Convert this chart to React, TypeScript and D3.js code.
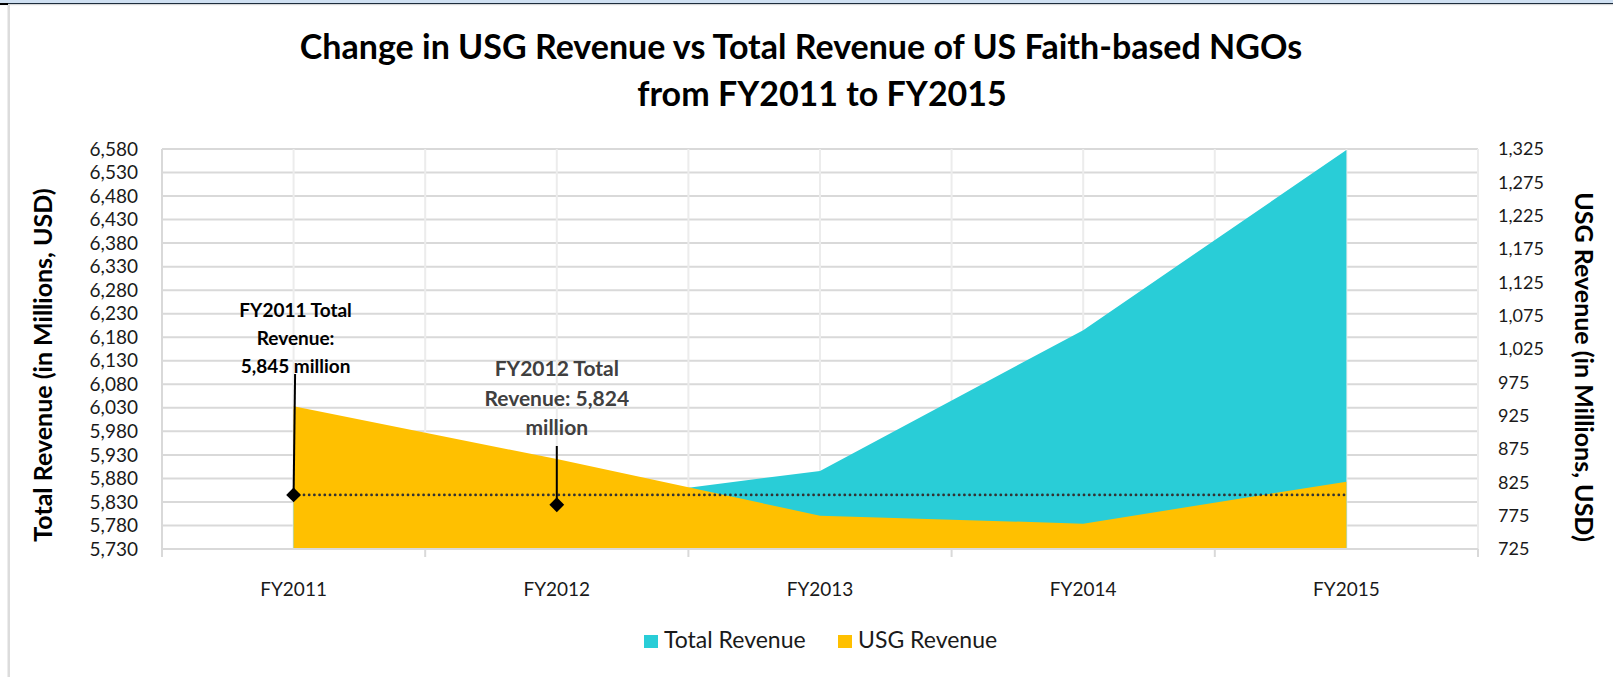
import React from "react";
import * as d3 from "d3";

const categories = ["FY2011", "FY2012", "FY2013", "FY2014", "FY2015"];
const totalRevenue = [5845, 5824, 5896, 6195, 6578];
const usgRevenue = [939, 860, 775, 763, 826];
const leftTicks = [5730, 5780, 5830, 5880, 5930, 5980, 6030, 6080, 6130, 6180, 6230, 6280, 6330, 6380, 6430, 6480, 6530, 6580];
const rightTicks = [725, 775, 825, 875, 925, 975, 1025, 1075, 1125, 1175, 1225, 1275, 1325];
const titleLines = ["Change in USG Revenue vs Total Revenue of US Faith-based NGOs", "from FY2011 to FY2015"];
const note2011 = ["FY2011 Total", "Revenue:", "5,845 million"];
const note2012 = ["FY2012 Total", "Revenue: 5,824", "million"];
const seriesNames = ["Total Revenue", "USG Revenue"];

const W = 1613, H = 677;
const L = 162, R = 1478, T = 149, B = 549;
const TEAL = "#29CDD7";
const ORANGE = "#FFC000";
const FONT = "Lato, 'Open Sans', sans-serif";
const fmt = d3.format(",");

export default function App() {
  const x = d3.scaleBand<string>().domain(categories).range([L, R]);
  const bw = x.bandwidth();
  const cx = (c: string) => (x(c) as number) + bw / 2;
  const yL = d3.scaleLinear().domain([5730, 6580]).range([B, T]);
  const yR = d3.scaleLinear().domain([725, 1325]).range([B, T]);

  const totalArea = d3.area<number>().x((_, i) => cx(categories[i])).y0(B).y1((d) => yL(d));
  const usgArea = d3.area<number>().x((_, i) => cx(categories[i])).y0(B).y1((d) => yR(d));

  const halfPositions: number[] = [];
  for (let i = 0; i <= categories.length * 2; i++) halfPositions.push(L + (i * bw) / 2);
  const boundaries = halfPositions.filter((_, i) => i % 2 === 0);

  const diamond = d3.symbol().type(d3.symbolSquare).size(110)();
  const refY = yL(totalRevenue[0]);
  const d1 = { x: cx(categories[0]), y: yL(totalRevenue[0]) };
  const d2 = { x: cx(categories[1]), y: yL(totalRevenue[1]) };
  const titleX = [801, 822];

  return (
    <svg width={W} height={H} style={{ position: "absolute", left: 0, top: 0, background: "#fff" }} fontFamily={FONT}>
      {/* window frame */}
      <rect x={0} y={0} width={W} height={3} fill="#cfe0f2" />
      <rect x={0} y={3} width={W} height={1.2} fill="#1e2d3d" />
      <rect x={0} y={4.2} width={W} height={1} fill="#d8d8d8" />
      <rect x={0} y={3} width={8} height={2} fill="#000" />
      <rect x={7.5} y={5} width={2.5} height={H} fill="#dcdcdc" />

      {/* title */}
      {titleLines.map((t, i) => (
        <text key={t} x={titleX[i]} y={59 + i * 47} textAnchor="middle" fontSize={34} fontWeight={700} fill="#000">
          {t}
        </text>
      ))}

      {/* horizontal gridlines */}
      {leftTicks.map((v) => (
        <line key={v} x1={L} x2={R} y1={yL(v)} y2={yL(v)} stroke="#d9d9d9" strokeWidth={2} />
      ))}
      {/* vertical gridlines */}
      {halfPositions.map((p, i) => (
        <line key={"v" + i} x1={p} x2={p} y1={T} y2={B} stroke="#ececec" strokeWidth={2} />
      ))}
      {/* ticks */}
      {boundaries.map((p, i) => (
        <line key={"t" + i} x1={p} x2={p} y1={B} y2={B + 8} stroke="#d9d9d9" strokeWidth={2} />
      ))}

      {/* areas */}
      <path d={totalArea(totalRevenue) as string} fill={TEAL} />
      <path d={usgArea(usgRevenue) as string} fill={ORANGE} />

      {/* axis lines */}
      <line x1={L} x2={R} y1={B} y2={B} stroke="#d9d9d9" strokeWidth={2} />
      <line x1={L} x2={L} y1={T} y2={B + 8} stroke="#d9d9d9" strokeWidth={2} />

      {/* reference dotted line */}
      <line
        x1={cx(categories[0])}
        x2={cx(categories[categories.length - 1])}
        y1={refY}
        y2={refY}
        stroke="#333"
        strokeWidth={2.8}
        strokeDasharray="0 5.2"
        strokeLinecap="round"
      />

      {/* left ticks */}
      {leftTicks.map((v) => (
        <text key={"l" + v} x={138} y={yL(v)} dy="0.35em" textAnchor="end" fontSize={19} fill="#1a1a1a">
          {fmt(v)}
        </text>
      ))}
      {/* right ticks */}
      {rightTicks.map((v) => (
        <text key={"r" + v} x={1498} y={yR(v)} dy="0.35em" textAnchor="start" fontSize={18} fill="#1a1a1a">
          {fmt(v)}
        </text>
      ))}
      {/* x labels */}
      {categories.map((c) => (
        <text key={c} x={cx(c)} y={596} textAnchor="middle" fontSize={19} fill="#1a1a1a">
          {c}
        </text>
      ))}

      {/* axis titles */}
      <text transform={`translate(52,${(T + B) / 2 + 16}) rotate(-90)`} textAnchor="middle" fontSize={25} fontWeight={700} fill="#000">
        Total Revenue (in Millions, USD)
      </text>
      <text transform={`translate(1575,${(T + B) / 2 + 18}) rotate(90)`} textAnchor="middle" fontSize={25} fontWeight={700} fill="#000">
        USG Revenue (in Millions, USD)
      </text>

      {/* annotation FY2011 */}
      {note2011.map((t, i) => (
        <text key={t} x={d1.x + 2} y={317 + i * 28} textAnchor="middle" fontSize={19} fontWeight={700} fill="#000">
          {t}
        </text>
      ))}
      <line x1={d1.x + 1.5} y1={374} x2={d1.x} y2={d1.y} stroke="#000" strokeWidth={2} />
      <path d={diamond as string} transform={`translate(${d1.x},${d1.y}) rotate(45)`} fill="#000" />

      {/* annotation FY2012 */}
      {note2012.map((t, i) => (
        <text key={t} x={d2.x} y={376 + i * 29.5} textAnchor="middle" fontSize={21} fontWeight={700} fill="#404040">
          {t}
        </text>
      ))}
      <line x1={d2.x} y1={446} x2={d2.x} y2={d2.y} stroke="#000" strokeWidth={2} />
      <path d={diamond as string} transform={`translate(${d2.x},${d2.y}) rotate(45)`} fill="#000" />

      {/* legend */}
      <rect x={644} y={635} width={14} height={13} fill={TEAL} />
      <text x={664} y={648} fontSize={23} fill="#1a1a1a">{seriesNames[0]}</text>
      <rect x={838} y={635} width={14} height={13} fill={ORANGE} />
      <text x={858} y={648} fontSize={23} fill="#1a1a1a">{seriesNames[1]}</text>
    </svg>
  );
}
